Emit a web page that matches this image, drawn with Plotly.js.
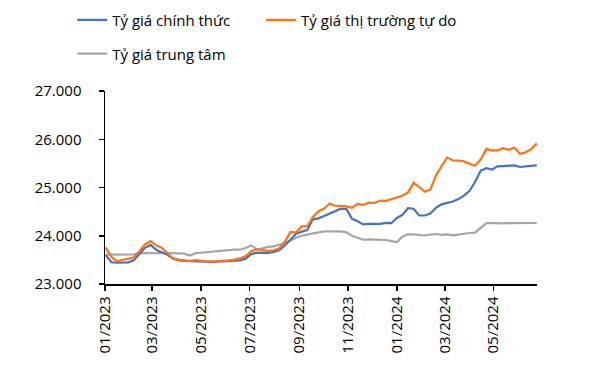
<!DOCTYPE html>
<html>
<head>
<meta charset="utf-8">
<script src="https://cdn.plot.ly/plotly-3.0.1.min.js"></script>
<style>html,body{margin:0;padding:0;background:#fff;}#chart{width:592px;height:372px;}</style>
</head>
<body>
<div id="chart"></div>
<script>
const dates = [
"2023-01-02","2023-01-09","2023-01-16","2023-01-23","2023-01-30","2023-02-06","2023-02-13","2023-02-20","2023-02-27","2023-03-06",
"2023-03-13","2023-03-20","2023-03-27","2023-04-03","2023-04-10","2023-04-17","2023-04-24","2023-05-01","2023-05-08","2023-05-15",
"2023-05-22","2023-05-29","2023-06-05","2023-06-12","2023-06-19","2023-06-26","2023-07-03","2023-07-10","2023-07-17","2023-07-24",
"2023-07-31","2023-08-07","2023-08-14","2023-08-21","2023-08-28","2023-09-04","2023-09-11","2023-09-18","2023-09-25","2023-10-02",
"2023-10-09","2023-10-16","2023-10-23","2023-10-30","2023-11-06","2023-11-13","2023-11-20","2023-11-27","2023-12-04","2023-12-11",
"2023-12-18","2023-12-25","2024-01-01","2024-01-08","2024-01-15","2024-01-22","2024-01-29","2024-02-05","2024-02-12","2024-02-19",
"2024-02-26","2024-03-04","2024-03-11","2024-03-18","2024-03-25","2024-04-01","2024-04-08","2024-04-15","2024-04-22","2024-04-29",
"2024-05-06","2024-05-13","2024-05-20","2024-05-27","2024-06-03","2024-06-10","2024-06-17","2024-06-24"
];
const officialRate = [
23600,23450,23440,23445,23450,23490,23614,23750,23810,23710,
23660,23605,23530,23490,23480,23475,23470,23460,23455,23458,
23462,23465,23475,23482,23490,23525,23620,23650,23640,23645,
23665,23700,23800,23920,24040,24085,24120,24340,24360,24410,
24460,24520,24560,24555,24350,24300,24235,24245,24240,24245,
24265,24260,24370,24430,24570,24560,24420,24420,24460,24580,
24650,24680,24710,24760,24830,24930,25120,25350,25400,25370,
25437,25445,25450,25458,25425,25440,25452,25458
];
const freeMarketRate = [
23760,23560,23475,23500,23535,23550,23680,23820,23890,23800,
23752,23650,23530,23505,23490,23478,23495,23478,23470,23462,
23468,23475,23488,23505,23530,23580,23680,23720,23700,23685,
23700,23740,23880,24080,24070,24194,24200,24390,24510,24560,
24670,24622,24620,24610,24580,24660,24640,24685,24680,24730,
24725,24755,24800,24830,24900,25100,25010,24910,24960,25250,
25450,25620,25560,25560,25540,25495,25450,25585,25800,25770,
25770,25815,25780,25830,25700,25730,25795,25915
];
const centralRate = [
23610,23610,23612,23612,23614,23615,23640,23642,23648,23645,
23642,23640,23640,23638,23630,23590,23640,23648,23655,23662,
23670,23690,23700,23715,23711,23745,23800,23715,23740,23770,
23780,23810,23850,23900,23960,24000,24030,24050,24070,24090,
24090,24095,24090,24070,24000,23960,23920,23925,23920,23915,
23912,23890,23870,23980,24030,24030,24020,24005,24025,24036,
24020,24030,24010,24030,24040,24057,24065,24160,24262,24264,
24255,24258,24262,24264,24260,24262,24264,24264
];
const seriesNames = ["Tỷ giá chính thức","Tỷ giá thị trường tự do","Tỷ giá trung tâm"];
const xTickVals = ["2023-01-01","2023-03-01","2023-05-01","2023-07-01","2023-09-01","2023-11-01","2024-01-01","2024-03-01","2024-05-01"];
const xTickText = ["01/2023","03/2023","05/2023","07/2023","09/2023","11/2023","01/2024","03/2024","05/2024"];
const yTickVals = [23000,24000,25000,26000,27000];
const yTickText = ["23.000","24.000","25.000","26.000","27.000"];

const FONT = "Open Sans, Noto Sans, sans-serif";
const legendFont = {family: FONT, size: 15, color: "#000"};
const traces = [
  {x: dates, y: centralRate, name: seriesNames[2], type: "scatter", mode: "lines",
   line: {color: "#A6A6A6", width: 2.2}, legend: "legend2"},
  {x: dates, y: officialRate, name: seriesNames[0], type: "scatter", mode: "lines",
   line: {color: "#4472C4", width: 2.2}, legend: "legend"},
  {x: dates, y: freeMarketRate, name: seriesNames[1], type: "scatter", mode: "lines",
   line: {color: "#FF7316", width: 2.2}, legend: "legend3"}
];
const layout = {
  width: 592, height: 372,
  margin: {l: 105, r: 55, t: 91, b: 88},
  paper_bgcolor: "#fff", plot_bgcolor: "#fff",
  font: {family: FONT, size: 15, color: "#000"},
  showlegend: true,
  legend: {orientation: "h", xref: "container", yref: "container", x: 0.122, y: 0.946,
    xanchor: "left", yanchor: "middle", font: legendFont, bgcolor: "rgba(0,0,0,0)"},
  legend3: {orientation: "h", xref: "container", yref: "container", x: 0.441, y: 0.946,
    xanchor: "left", yanchor: "middle", font: legendFont, bgcolor: "rgba(0,0,0,0)"},
  legend2: {orientation: "h", xref: "container", yref: "container", x: 0.122, y: 0.855,
    xanchor: "left", yanchor: "middle", font: legendFont, bgcolor: "rgba(0,0,0,0)"},
  xaxis: {type: "date", range: ["2023-01-01", "2024-06-24 08:00"],
    tickmode: "array", tickvals: xTickVals, ticktext: xTickText, tickangle: -90,
    ticks: "outside", ticklen: 5, tickwidth: 1.5, tickcolor: "#000",
    showline: true, linecolor: "#000", linewidth: 1.5, showgrid: false, zeroline: false,
    tickfont: {family: FONT, size: 15, color: "#000"}},
  yaxis: {range: [23000, 27000], tickmode: "array", tickvals: yTickVals, ticktext: yTickText,
    ticks: "outside", ticklen: 5, tickwidth: 1.5, tickcolor: "#000",
    showline: true, linecolor: "#000", linewidth: 1.5, showgrid: false, zeroline: false,
    ticklabelstandoff: 14,
    tickfont: {family: FONT, size: 15, color: "#000"}}
};
Plotly.newPlot("chart", traces, layout, {displayModeBar: false, staticPlot: true});
</script>
</body>
</html>
